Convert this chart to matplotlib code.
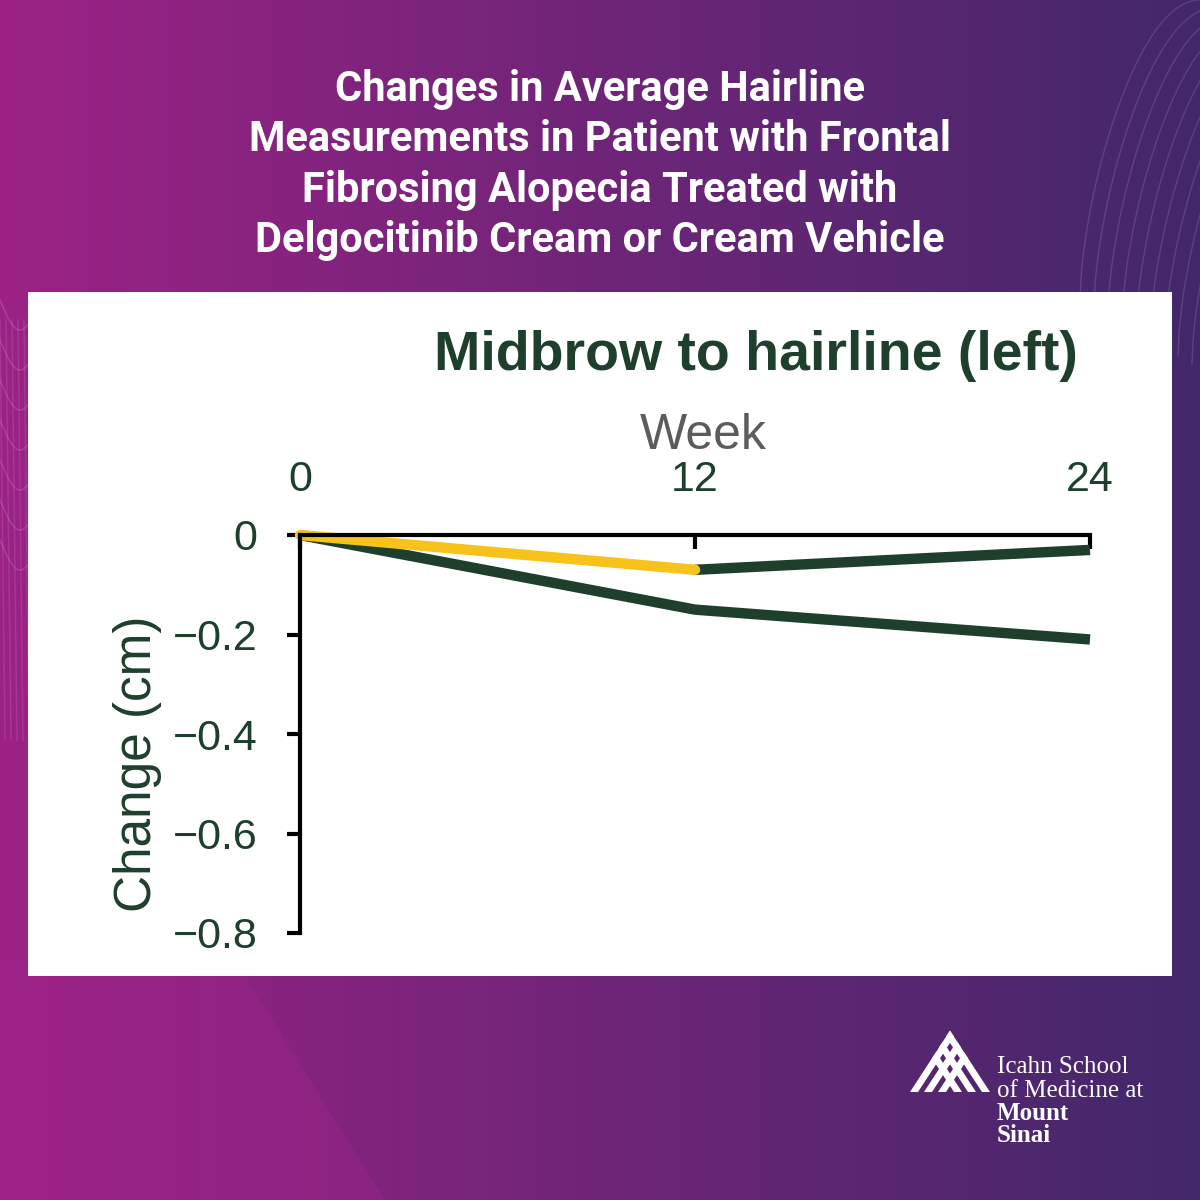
import numpy as np
import matplotlib
matplotlib.use("Agg")
import matplotlib.pyplot as plt
from matplotlib.patches import Rectangle, Polygon

# data
weeks = [0, 12, 24]
group_a = [0, -0.15, -0.21]      # dark green all the way
group_b = [0, -0.07, -0.03]      # yellow up to week 12, then dark green
y_ticks = [0, -0.2, -0.4, -0.6, -0.8]
y_labels = ["0", "\u22120.2", "\u22120.4", "\u22120.6", "\u22120.8"]

headline = ("Changes in Average Hairline\nMeasurements in Patient with Frontal\n"
            "Fibrosing Alopecia Treated with\nDelgocitinib Cream or Cream Vehicle")
panel_title = "Midbrow to hairline (left)"

green = "#1d3f2c"
yellow = "#f7c21a"
W = 1200.0


def px(x, y):
    return x / W, 1 - y / W


fig = plt.figure(figsize=(12, 12), dpi=100)

# background gradient
bg = fig.add_axes([0, 0, 1, 1])
xx = np.linspace(0, 1, 400)
left_c = np.array([156, 34, 134]) / 255
right_c = np.array([66, 40, 106]) / 255
grad = left_c[None, :] * (1 - xx[:, None]) + right_c[None, :] * xx[:, None]
img = np.repeat(grad[None, :, :], 10, axis=0)
bg.imshow(img, extent=[0, 1, 0, 1], aspect="auto", origin="lower")
bg.set_xlim(0, 1)
bg.set_ylim(0, 1)

# lighter magenta sheet bottom left
bg.add_patch(Polygon([px(0, 960), px(235, 960), px(385, 1200), px(0, 1200)],
                     facecolor=(0.63, 0.14, 0.55), edgecolor="none", alpha=0.35, zorder=2))

# faint decorative mesh (top right and left edge)
t = np.linspace(0, 1, 120)
for k in range(10):
    xs = 1080 + 14 * k + 120 * t
    ys = 300 - 300 * np.sin(np.pi * 0.5 * t) ** 0.6 + 8 * k
    bg.plot(xs / W, 1 - ys / W, color="white", alpha=0.13, lw=1)
for k in range(7):
    ys = 300 + 40 * k + 30 * np.sin(np.pi * t)
    bg.plot(40 * t / W, 1 - ys / W, color="white", alpha=0.15, lw=1)
    bg.plot((6 * k + 5 * t) / W, 1 - (320 + 420 * t) / W, color="white", alpha=0.1, lw=1)
bg.axis("off")

# white panel
bg.add_patch(Rectangle(px(28, 976), 1144 / W, 684 / W,
                       facecolor="white", edgecolor="none", zorder=3))

fig.text(0.5, 1 - 165 / W, headline, ha="center", va="center", color="white",
         fontsize=30, fontweight="bold", family="Roboto", linespacing=1.3)

# chart
ax = fig.add_axes([300 / W, 1 - 933 / W, 790 / W, 398 / W])
ax.patch.set_alpha(0)
ax.plot(weeks, group_a, color=green, lw=7.5, solid_capstyle="butt", zorder=3)
ax.plot(weeks[1:], group_b[1:], color=green, lw=7.5, solid_capstyle="butt", zorder=4)
ax.plot(weeks[:2], group_b[:2], color=yellow, lw=7.5, solid_capstyle="round", zorder=5)

ax.set_xlim(0, 24)
ax.set_ylim(-0.8, 0)
ax.spines["right"].set_visible(False)
ax.spines["bottom"].set_visible(False)
ax.spines["left"].set_linewidth(3)
ax.spines["top"].set_linewidth(3)
ax.spines["left"].set_zorder(6)
ax.spines["top"].set_zorder(6)
ax.xaxis.tick_top()
ax.set_xticks(weeks)
ax.set_xticklabels([str(w) for w in weeks])
ax.tick_params(axis="x", direction="in", length=10, width=3, pad=25,
               labelsize=31, labelcolor=green)
ax.set_yticks(y_ticks)
ax.set_yticklabels(y_labels)
ax.tick_params(axis="y", direction="out", length=9.5, width=3, pad=21,
               labelsize=31, labelcolor=green)
for lab in ax.get_xticklabels() + ax.get_yticklabels():
    lab.set_family("Liberation Sans")
for line in ax.lines:
    line.set_clip_on(False)

fig.text(703 / W, 1 - 436 / W, "Week", ha="center", va="center",
         fontsize=36, color="#5c5c5c", family="Liberation Sans")
fig.text(756 / W, 1 - 356 / W, panel_title, ha="center", va="center",
         fontsize=40, fontweight="bold", color=green, family="Liberation Sans")
fig.text(138 / W, 1 - 764 / W, "Change (cm)", ha="center", va="center",
         rotation=90, fontsize=37, color=green, family="Liberation Sans")

# logo: crossing white bands forming a peak
k = 30 / 46
for i in range(3):
    xb = 910 + 14 * i
    t1 = (990 - xb) / (2 * k)
    bg.add_patch(Polygon([px(xb, 1092), px(xb + 8, 1092),
                          px(xb + 8 + k * (t1 - 6), 1092 - t1 + 6), px(xb + k * t1, 1092 - t1)],
                         facecolor="white", edgecolor="none", zorder=4))
    xr = 990 - 14 * i
    bg.add_patch(Polygon([px(xr, 1092), px(xr - 8, 1092),
                          px(xr - 8 - k * (t1 - 6), 1092 - t1 + 6), px(xr - k * t1, 1092 - t1)],
                         facecolor="white", edgecolor="none", zorder=4))
fig.text(997 / W, 1 - 1067 / W, "Icahn School", ha="left", va="center",
         fontsize=18, color="white", family="Liberation Serif")
fig.text(997 / W, 1 - 1091 / W, "of Medicine at", ha="left", va="center",
         fontsize=18, color="white", family="Liberation Serif")
fig.text(997 / W, 1 - 1114 / W, "Mount", ha="left", va="center",
         fontsize=18, color="white", fontweight="bold", family="Liberation Serif")
fig.text(997 / W, 1 - 1136 / W, "Sinai", ha="left", va="center",
         fontsize=18, color="white", fontweight="bold", family="Liberation Serif")

fig.savefig("out.png", dpi=100)
